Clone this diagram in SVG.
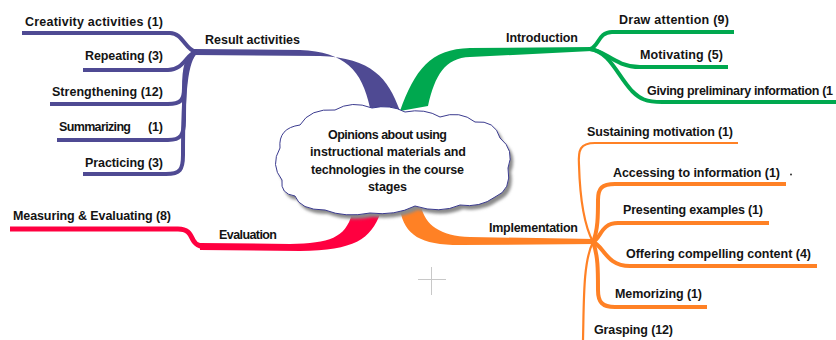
<svg xmlns="http://www.w3.org/2000/svg" width="836" height="340" viewBox="0 0 836 340">
<defs>
<style>
.t{font-family:"Liberation Sans",Arial,sans-serif;font-size:12.5px;font-weight:bold;fill:#141414}
.c{text-anchor:middle}
.p{fill:none;stroke:#4f4a93;stroke-width:4;stroke-linecap:butt}
.g{fill:none;stroke:#00a84f;stroke-width:4}
.o{fill:none;stroke:#ff8125;stroke-width:4}
.ot{fill:none;stroke:#ff8125;stroke-width:2.2}
.r{fill:none;stroke:#ff0040;stroke-width:5}
</style>
<filter id="sh" x="-10%" y="-10%" width="120%" height="130%"><feGaussianBlur stdDeviation="1.5"/></filter>
</defs>
<rect width="836" height="340" fill="#fff"/>
<g id="connectors">
<path fill="#4f4a93" d="M193,49 L300,50 C345,52 362,70 370,108 L400,111 C388,78 372,58 320,56 L193,55 Z"/>
<path class="p" d="M196,52 C185,50 183,33 170,33 L22,33"/>
<path class="p" d="M196,52 C186,54 184,70 168,70 L83,70"/>
<path class="p" d="M196,52 C186,56 184,70 184,88 C184,100 181,104 168,104 L50,104"/>
<path class="p" d="M196,52 C186,58 184,80 184,120 C184,135 181,140 168,140 L57,140"/>
<path class="p" d="M196,52 C186,60 183,90 183,155 C183,170 180,174 166,174 L83,174"/>
<path fill="#00a84f" d="M400,111 C415,70 430,49 470,48 L592,47 L592,51 L470,57 C445,58 435,75 428,106 Z"/>
<path class="g" d="M590,49 C599,47 598,32 612,32 L734,32"/>
<path class="g" d="M590,49 C605,50 615,67 640,67 L728,67"/>
<path class="g" d="M590,49 C610,52 617,75 632,91 C640,99 646,102 662,102 L836,102"/>
<path fill="#ff8125" d="M400,210 C405,235 420,245 460,245 L595,244 L595,239 L470,237 C440,236 425,225 421,206 Z"/>
<path class="ot" d="M593,242 C584,225 580,200 579,165 C578,150 580,143 595,143 L738,143"/>
<path class="o" d="M593,242 C598,230 598,215 598,200 C598,188 602,184 615,184 L786,184"/>
<path class="o" d="M593,242 C601,238 601,223 618,223 L769,223"/>
<path class="o" d="M593,242 C604,246 606,266 630,266 L817,266"/>
<path class="o" d="M593,242 C598,255 598,270 598,290 C598,302 602,307 615,307 L707,307"/>
<path class="ot" d="M593,242 C583,262 584,300 583,340"/>
<path fill="#ff0040" d="M352,214 C345,238 330,243 290,244 L200,243 L200,250 L300,251 C355,250 370,240 381,212 Z"/>
<path class="r" d="M10,229 L178,229 C188,229 190,234 193,240 C196,246 202,247 212,247"/>
</g>
<g id="center">
<path transform="translate(3,4)" filter="url(#sh)" fill="#8a8a8a" d="M282,180 Q270,165 280,148 Q278,128 300,125 Q310,108 335,110 Q352,100 372,108 Q390,104 405,112 Q425,108 440,117 Q460,110 475,122 Q495,120 500,138 Q515,150 508,168 Q512,190 495,197 Q480,208 460,205 Q440,214 415,206 Q395,216 370,213 Q345,218 325,210 Q300,210 295,196 Q280,194 282,180 Z"/>
<path fill="#fff" stroke="#3b3b8f" stroke-width="1" d="M282,180 Q270,165 280,148 Q278,128 300,125 Q310,108 335,110 Q352,100 372,108 Q390,104 405,112 Q425,108 440,117 Q460,110 475,122 Q495,120 500,138 Q515,150 508,168 Q512,190 495,197 Q480,208 460,205 Q440,214 415,206 Q395,216 370,213 Q345,218 325,210 Q300,210 295,196 Q280,194 282,180 Z"/>
<text class="t" x="328" y="138.5" textLength="119">Opinions about using</text>
<text class="t" x="310" y="156" textLength="156">instructional materials and</text>
<text class="t" x="311" y="173.5" textLength="153">technologies in the course</text>
<text class="t" x="368" y="190.5" textLength="39">stages</text>
</g>
<g id="result-activities"><text class="t" x="205" y="44" textLength="95">Result activities</text></g>
<g id="creativity"><text class="t" x="25" y="25.5" textLength="138">Creativity activities (1)</text></g>
<g id="repeating"><text class="t" x="85" y="60" textLength="78">Repeating (3)</text></g>
<g id="strengthening"><text class="t" x="52" y="96" textLength="111">Strengthening (12)</text></g>
<g id="summarizing"><text class="t" x="59" y="131"><tspan textLength="72">Summarizing</tspan> <tspan x="148" textLength="15">(1)</tspan></text></g>
<g id="practicing"><text class="t" x="85" y="166.5" textLength="78">Practicing (3)</text></g>
<g id="introduction"><text class="t" x="506" y="41.5" textLength="72">Introduction</text></g>
<g id="draw-attention"><text class="t" x="619" y="23.5" textLength="110">Draw attention (9)</text></g>
<g id="motivating"><text class="t" x="640" y="58.5" textLength="83">Motivating (5)</text></g>
<g id="giving"><text class="t" x="647" y="94.5" textLength="186">Giving preliminary information (1</text></g>
<g id="implementation"><text class="t" x="489" y="232" textLength="89">Implementation</text></g>
<g id="sustaining"><text class="t" x="587" y="135.5" textLength="146">Sustaining motivation (1)</text></g>
<g id="accessing"><text class="t" x="613" y="176.5" textLength="167">Accessing to information (1)</text><circle cx="791" cy="174.5" r="1" fill="#333"/></g>
<g id="presenting"><text class="t" x="623" y="214" textLength="140">Presenting examples (1)</text></g>
<g id="offering"><text class="t" x="626" y="257.5" textLength="185">Offering compelling content (4)</text></g>
<g id="memorizing"><text class="t" x="615" y="298" textLength="87">Memorizing (1)</text></g>
<g id="grasping"><text class="t" x="594" y="334" textLength="79">Grasping (12)</text></g>
<g id="evaluation"><text class="t" x="219" y="239" textLength="58">Evaluation</text></g>
<g id="measuring"><text class="t" x="13" y="220" textLength="158">Measuring &amp; Evaluating (8)</text></g>
<g id="crosshair" stroke="#c8c8c8" stroke-width="1"><line x1="431.5" y1="267" x2="431.5" y2="295"/><line x1="418" y1="279.5" x2="446" y2="279.5"/></g>
</svg>
